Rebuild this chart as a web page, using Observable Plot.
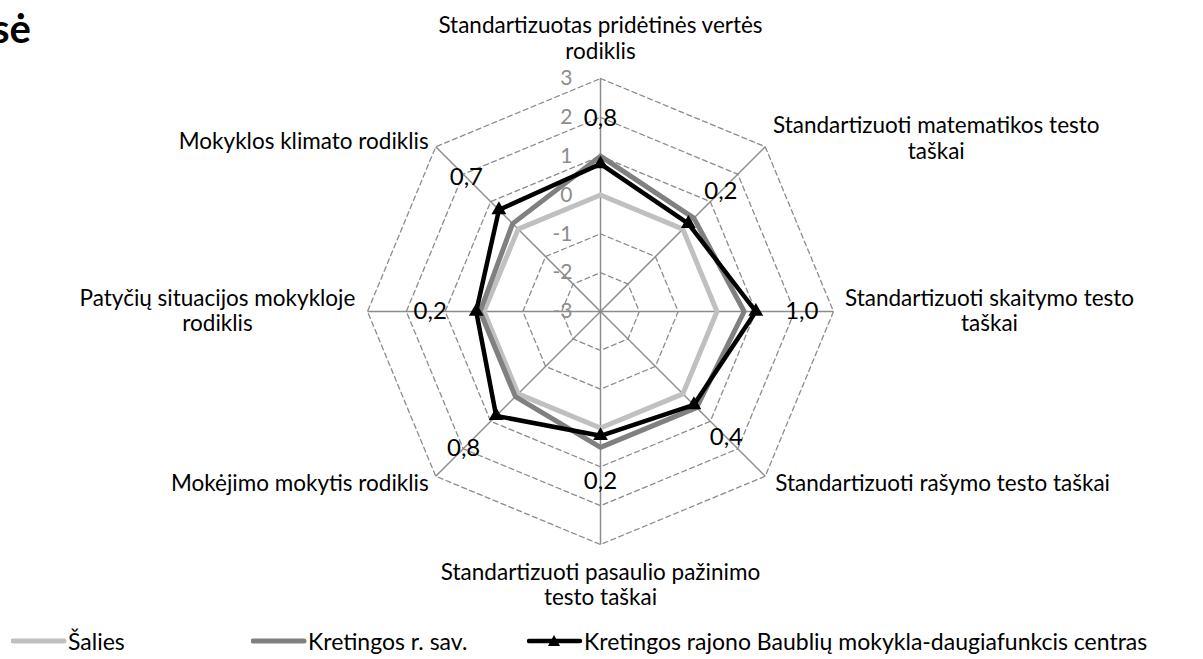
<!DOCTYPE html>
<html><head><meta charset="utf-8">
<script src="https://cdn.jsdelivr.net/npm/d3@7"></script>
<script src="https://cdn.jsdelivr.net/npm/@observablehq/plot@0.6"></script>
<style>
body{margin:0;background:#fff;font-family:Lato,"Open Sans",sans-serif;}
#wrap{position:relative;width:1203px;height:659px;overflow:hidden;}
#title{position:absolute;left:-8px;top:8px;font-size:40px;font-weight:bold;line-height:40px;color:#000;}
#legend{position:absolute;left:0;top:622px;width:1203px;height:37px;}
.item{position:absolute;top:0;height:37px;display:flex;align-items:center;font-size:23px;color:#000;white-space:nowrap;}
.item svg{margin-right:0;}
</style></head>
<body>
<div id="wrap">
<div id="chart"></div>
<div id="title">sė</div>
<div id="legend"></div>
</div>
<script>
// ---- data ----
const axisLabels = [
  "Standartizuotas pridėtinės vertės\nrodiklis",
  "Standartizuoti matematikos testo\ntaškai",
  "Standartizuoti skaitymo testo\ntaškai",
  "Standartizuoti rašymo testo taškai",
  "Standartizuoti pasaulio pažinimo\ntesto taškai",
  "Mokėjimo mokytis rodiklis",
  "Patyčių situacijos mokykloje\nrodiklis",
  "Mokyklos klimato rodiklis"
];
const seriesNames = ["Šalies", "Kretingos r. sav.", "Kretingos rajono Baublių mokykla-daugiafunkcis centras"];
const salies    = [0, 0, 0, 0, 0, 0, 0, 0];
const kretingos = [1.0, 0.4, 0.7, 0.5, 0.5, 0.1, 0.1, 0.2];
const baubliai  = [0.8, 0.2, 1.0, 0.4, 0.2, 0.8, 0.2, 0.7];
const tickValues = [-3, -2, -1, 0, 1, 2, 3];
const seriesColors = ["#c0c0c0", "#808080", "#000000"];

// ---- geometry (layout) ----
const W = 1203, H = 622, cx = 600, cy = 311, R = 233;
const vMin = -3, vMax = 3;
const u = R / (vMax - vMin);           // px per unit
const n = axisLabels.length;
const ang = i => i * 2 * Math.PI / n;
const px = (v, i) => (v - vMin) * Math.sin(ang(i));
const py = (v, i) => (v - vMin) * Math.cos(ang(i));

// rings
const rings = [];
tickValues.filter(t => t > vMin).forEach(t => {
  for (let i = 0; i <= n; i++) rings.push({t, x: px(t, i % n), y: py(t, i % n)});
});
// spokes
const spokes = axisLabels.map((l, i) => ({x1: 0, y1: 0, x2: px(vMax, i), y2: py(vMax, i)}));
// series polygons
const allSeries = [salies, kretingos, baubliai];
const lines = [];
allSeries.forEach((vals, s) => {
  for (let i = 0; i <= n; i++) lines.push({s, x: px(vals[i % n], i % n), y: py(vals[i % n], i % n)});
});
const pts = baubliai.map((v, i) => ({x: px(v, i), y: py(v, i)}));
const labOff = 46 / u;
const dataLabels = baubliai.map((v, i) => ({
  x: px(v + labOff, i), y: py(v + labOff, i),
  text: v.toFixed(1).replace(".", ",")
}));
const tickLabels = tickValues.map(t => ({x: 0, y: t - vMin, text: String(t)}));

const labelOpts = [
  {textAnchor: "middle", lineAnchor: "bottom", dx: 0, dy: -20},
  {textAnchor: "middle", lineAnchor: "middle", dx: 171, dy: -9},
  {textAnchor: "middle", lineAnchor: "middle", dx: 156, dy: -1},
  {textAnchor: "start", lineAnchor: "middle", dx: 10, dy: 7},
  {textAnchor: "middle", lineAnchor: "top", dx: 0, dy: 17},
  {textAnchor: "end", lineAnchor: "middle", dx: -7, dy: 7},
  {textAnchor: "middle", lineAnchor: "middle", dx: -150, dy: -1},
  {textAnchor: "end", lineAnchor: "middle", dx: -7, dy: -6}
];
const axisTextMarks = axisLabels.map((lab, i) =>
  Plot.text([{x: px(vMax, i), y: py(vMax, i), text: lab}], {
    x: "x", y: "y", text: "text", fontSize: 22.5, lineHeight: 1.13, fill: "#000",
    ...labelOpts[i]
  })
);

const plot = Plot.plot({
  width: W, height: H,
  marginTop: 0, marginBottom: 0, marginLeft: 0, marginRight: 0,
  x: {domain: [-cx / u, (W - cx) / u], axis: null},
  y: {domain: [-(H - cy) / u, cy / u], axis: null},
  style: {fontFamily: "Lato, 'Open Sans', sans-serif", background: "#fff"},
  marks: [
    Plot.line(rings, {x: "x", y: "y", z: "t", stroke: "#8c8c8c", strokeWidth: 1.3, strokeDasharray: "5,3.5"}),
    Plot.link(spokes, {x1: "x1", y1: "y1", x2: "x2", y2: "y2", stroke: "#8c8c8c", strokeWidth: 1.5}),
    Plot.text(tickLabels, {x: "x", y: "y", text: "text", textAnchor: "end", dx: -28, fontSize: 21, fill: "#8c8c8c"}),
    Plot.line(lines.filter(d => d.s === 0), {x: "x", y: "y", stroke: seriesColors[0], strokeWidth: 5, strokeLinejoin: "miter"}),
    Plot.line(lines.filter(d => d.s === 1), {x: "x", y: "y", stroke: seriesColors[1], strokeWidth: 5, strokeLinejoin: "miter"}),
    Plot.line(lines.filter(d => d.s === 2), {x: "x", y: "y", stroke: seriesColors[2], strokeWidth: 4.5, strokeLinejoin: "miter"}),
    Plot.dot(pts, {x: "x", y: "y", symbol: "triangle", r: 5.5, fill: "#000", stroke: "none"}),
    Plot.text(dataLabels, {x: "x", y: "y", text: "text", fontSize: 24, fill: "#000"}),
    ...axisTextMarks
  ]
});
document.getElementById("chart").appendChild(plot);

// legend
const legendLeft = [11, 251, 527];
const leg = document.getElementById("legend");
seriesNames.forEach((name, s) => {
  const div = document.createElement("div");
  div.className = "item";
  div.style.left = legendLeft[s] + "px";
  const tri = s === 2 ? '<path d="M27,-6 L33,5 L21,5 Z" transform="translate(0,12)" fill="#000"/>' : "";
  div.innerHTML = `<svg width="57" height="24"><line x1="2" x2="53" y1="12" y2="12" stroke="${seriesColors[s]}" stroke-width="${s===2?4.5:5}" stroke-linecap="round"/>${tri}</svg><span>${name}</span>`;
  leg.appendChild(div);
});
</script>
</body></html>
